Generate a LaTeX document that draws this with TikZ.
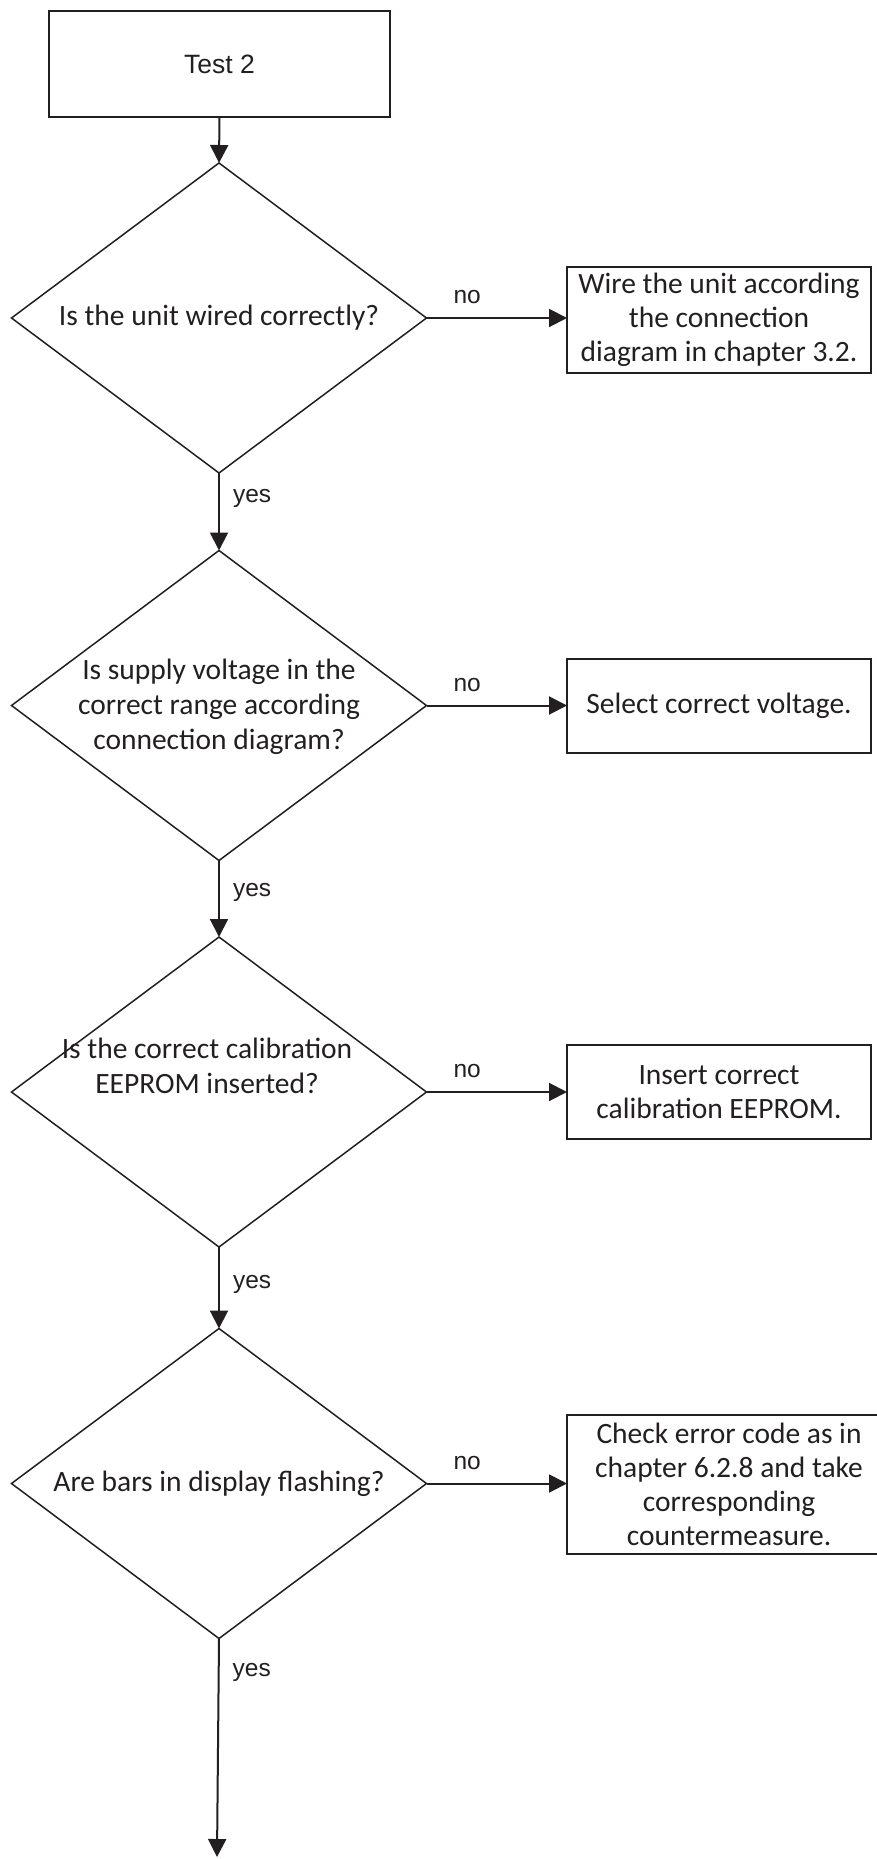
\documentclass[tikz,border=0pt]{standalone}
\usepackage{fontspec}
\setmainfont{Carlito}
\newfontfamily\arialf{Liberation Sans}
\usetikzlibrary{shapes.geometric,arrows.meta}
\definecolor{ink}{HTML}{231F20}
\begin{document}
\begin{tikzpicture}[x=1pt,y=-1pt,
  box/.style={draw=ink, line width=1.5pt, rectangle, inner sep=0pt, outer sep=0pt, align=center, font=\fontsize{29.5}{34}\selectfont, text=ink},
  dia/.style={draw=ink, line width=1.5pt, diamond, inner sep=0pt, outer sep=0pt, minimum width=415pt, minimum height=310pt},
  dtext/.style={align=center, font=\fontsize{29.5}{35}\selectfont, text=ink, inner sep=0pt},
  arr/.style={draw=ink, line width=2pt, -{Triangle[length=18pt,width=18pt]}},
  lab/.style={font=\arialf\fontsize{24.5}{28}\selectfont, text=ink, inner sep=0pt}]
\clip (0,0) rectangle (877,1859);
\fill[white] (0,0) rectangle (877,1859);

% start box
\node[box, minimum width=341pt, minimum height=106pt, font=\arialf\fontsize{26.5}{30}\selectfont] (t) at (219.5,64) {Test 2};

% diamonds
\node[dia] (d1) at (219,318) {};
\node[dia] (d2) at (219,705.5) {};
\node[dia] (d3) at (219,1092) {};
\node[dia] (d4) at (219,1483.5) {};

\node[dtext] (d1t) at (219,318) {Is the unit wired correctly?};
\node[dtext] (d2t) at (219,707) {Is supply voltage in the\\correct range according\\connection diagram?};
\node[dtext] (d3t) at (207,1066) {Is the correct calibration\\EEPROM inserted?};
\node[dtext] (d4t) at (219,1483.5) {Are bars in display flashing?};

% action boxes
\node[box, minimum width=304pt, minimum height=106pt] (b1) at (719,320) {Wire the unit according\\the connection\\diagram in chapter 3.2.};
\node[box, minimum width=304pt, minimum height=94pt] (b2) at (719,706) {Select correct voltage.};
\node[box, minimum width=304pt, minimum height=94pt] (b3) at (719,1092) {Insert correct\\calibration EEPROM.};
\node[box, minimum width=324pt, minimum height=139pt] (b4) at (729,1484.5) {Check error code as in\\chapter 6.2.8 and take\\corresponding\\countermeasure.};

\coordinate (end) at (217,1857);

% vertical flow
\draw[arr] (t.south) -- (d1.north);
\draw[arr] (d1.south) -- node[lab, pos=0.377, anchor=base west, xshift=13pt] {yes} (d2.north);
\draw[arr] (d2.south) -- node[lab, pos=0.47, anchor=base west, xshift=13pt] {yes} (d3.north);
\draw[arr] (d3.south) -- node[lab, pos=0.506, anchor=base west, xshift=13pt] {yes} (d4.north);
\draw[arr] (d4.south) -- node[lab, pos=0.174, anchor=base west, xshift=13pt] {yes} (end);

% no branches
\draw[arr] (d1.east) -- node[lab, pos=0.29, anchor=base, yshift=14.5pt] {no} (d1.east -| b1.west);
\draw[arr] (d2.east) -- node[lab, pos=0.29, anchor=base, yshift=14.5pt] {no} (d2.east -| b2.west);
\draw[arr] (d3.east) -- node[lab, pos=0.29, anchor=base, yshift=14.5pt] {no} (d3.east -| b3.west);
\draw[arr] (d4.east) -- node[lab, pos=0.29, anchor=base, yshift=14.5pt] {no} (d4.east -| b4.west);
\end{tikzpicture}
\end{document}
